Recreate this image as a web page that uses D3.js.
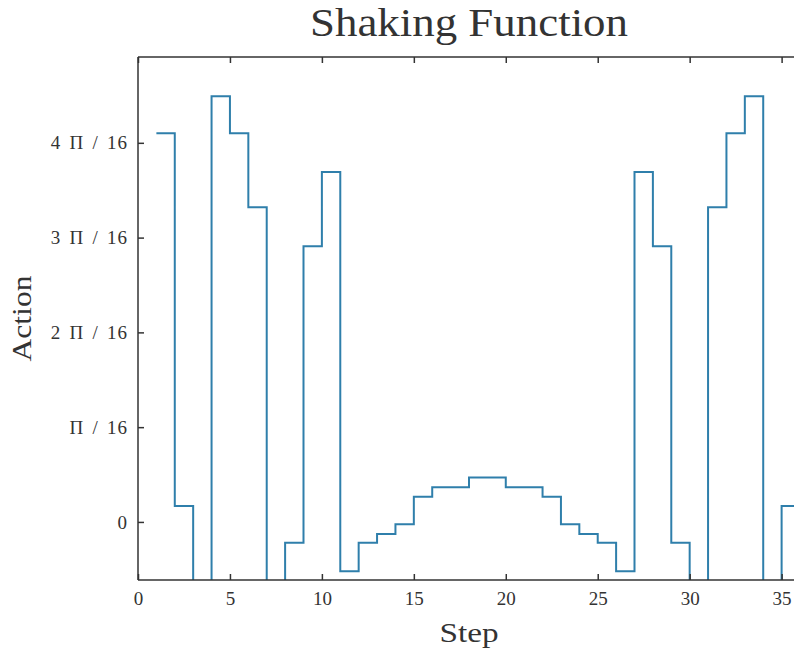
<!DOCTYPE html>
<html>
<head>
<meta charset="utf-8">
<script src="https://cdn.jsdelivr.net/npm/d3@7"></script>
<style>
  html, body { margin: 0; padding: 0; background: #fff; }
  svg { display: block; }
  text { font-family: "Liberation Serif", "DejaVu Serif", serif; fill: #333; }
</style>
</head>
<body>
<svg id="chart" width="794" height="653"></svg>
<script>
// Step index of each action
const steps = d3.range(1, 37);
// Action applied at each step, in radians (values below the axis floor are clipped)
const actions = [
  0.805, 0.033, -0.300, 0.882, 0.805, 0.652, -0.300, -0.043, 0.571, 0.725,
  -0.102, -0.043, -0.025, -0.005, 0.052, 0.072, 0.072, 0.092, 0.092, 0.072,
  0.072, 0.052, -0.005, -0.025, -0.043, -0.102, 0.725, 0.571, -0.043, -0.300,
  0.652, 0.805, 0.882, -0.300, 0.033, 0.805
];
// Axis ticks
const xTicks = [0, 5, 10, 15, 20, 25, 30, 35];
const yTickMultiples = [0, 1, 2, 3, 4];
const yTickLabels = ["0", "\u03A0 / 16", "2 \u03A0 / 16", "3 \u03A0 / 16", "4 \u03A0 / 16"];

const svg = d3.select("#chart");
const frame = { left: 138, top: 57, right: 800, bottom: 580 };

const x = d3.scaleLinear().domain([0, 36]).range([frame.left, frame.right]);
const y = d3.scaleLinear().domain([-0.1203, 0.9632]).range([frame.bottom, frame.top]);

const yTickValues = yTickMultiples.map(k => k * Math.PI / 16);

svg.append("defs").append("clipPath").attr("id", "plot-clip")
  .append("rect")
  .attr("x", frame.left).attr("y", frame.top)
  .attr("width", frame.right - frame.left)
  .attr("height", frame.bottom - frame.top);

// Stair-step action trace
const line = d3.line()
  .x((d, i) => x(steps[i]))
  .y(d => y(d))
  .curve(d3.curveStepAfter);

svg.append("path")
  .datum(actions)
  .attr("clip-path", "url(#plot-clip)")
  .attr("fill", "none")
  .attr("stroke", "#2f7fab")
  .attr("stroke-width", 2)
  .attr("d", line);

// Axes with inward ticks, boxed frame
const tickLen = 6;
const axisColor = "#333";

const axBottom = svg.append("g").attr("transform", `translate(0,${frame.bottom})`)
  .call(d3.axisBottom(x).tickValues(xTicks).tickSize(-tickLen).tickPadding(12).tickFormat(d3.format("d")));
const axTop = svg.append("g").attr("transform", `translate(0,${frame.top})`)
  .call(d3.axisTop(x).tickValues(xTicks).tickSize(-tickLen).tickFormat(""));
const axLeft = svg.append("g").attr("transform", `translate(${frame.left},0)`)
  .call(d3.axisLeft(y).tickValues(yTickValues).tickSize(-tickLen).tickPadding(10)
    .tickFormat((d, i) => yTickLabels[i]));
const axRight = svg.append("g").attr("transform", `translate(${frame.right},0)`)
  .call(d3.axisRight(y).tickValues(yTickValues).tickSize(-tickLen).tickFormat(""));

[axBottom, axTop, axLeft, axRight].forEach(g => {
  g.select(".domain").attr("stroke", axisColor).attr("stroke-width", 1.5);
  g.selectAll(".tick line").attr("stroke", axisColor).attr("stroke-width", 1.5);
  g.selectAll(".tick text")
    .attr("font-family", "Liberation Serif, DejaVu Serif, serif")
    .attr("font-size", 19).attr("fill", "#333");
});
axLeft.selectAll(".tick text")
  .attr("letter-spacing", 1)
  .attr("word-spacing", 2.5);
// square frame corners, no outer end ticks
axBottom.select(".domain").attr("d", `M${frame.left},0H${frame.right}`);
axTop.select(".domain").attr("d", `M${frame.left},0H${frame.right}`);
axLeft.select(".domain").attr("d", `M0,${frame.top}V${frame.bottom}`);
axRight.select(".domain").attr("d", `M0,${frame.top}V${frame.bottom}`);

// Title and axis labels
svg.append("text")
  .attr("x", (frame.left + frame.right) / 2).attr("y", 36)
  .attr("text-anchor", "middle")
  .attr("font-size", 39)
  .attr("fill", "#222")
  .attr("textLength", 318)
  .attr("lengthAdjust", "spacingAndGlyphs")
  .text("Shaking Function");

svg.append("text")
  .attr("x", (frame.left + frame.right) / 2).attr("y", 642)
  .attr("text-anchor", "middle")
  .attr("font-size", 28)
  .attr("textLength", 59)
  .attr("lengthAdjust", "spacingAndGlyphs")
  .text("Step");

svg.append("text")
  .attr("transform", `translate(31,${(frame.top + frame.bottom) / 2}) rotate(-90)`)
  .attr("text-anchor", "middle")
  .attr("font-size", 28)
  .attr("textLength", 86)
  .attr("lengthAdjust", "spacingAndGlyphs")
  .text("Action");
</script>
</body>
</html>
